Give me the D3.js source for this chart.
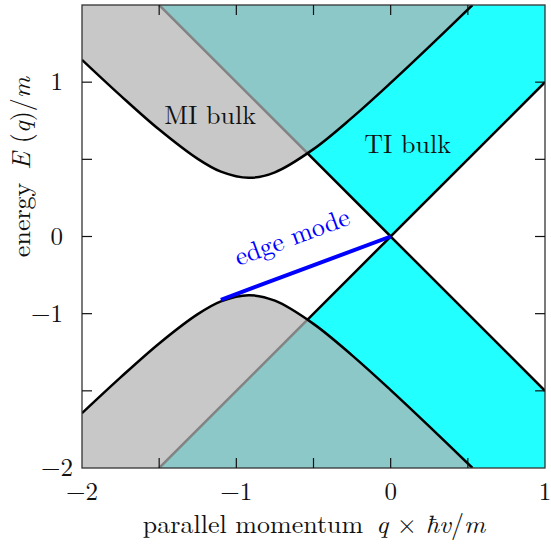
<!DOCTYPE html>
<html lang="en">
<head>
<meta charset="utf-8">
<script src="https://d3js.org/d3.v7.min.js"></script>
<style>
    body { margin: 0; background: white; }
</style>
</head>
<body>
<svg width="551" height="551"></svg>
<script>
// MI band edge (upper branch; the lower one is its mirror)
const miQ = [-2, -1.75, -1.5, -1.25, -1.1, -0.92, -0.75, -0.5, -0.25, 0, 0.25, 0.53];
const miE = [1.145, 0.913, 0.693, 0.503, 0.42, 0.38, 0.416, 0.566, 0.77, 0.995, 1.23, 1.5];

// TI Dirac cone edges
const tiQ = [-1.5, 0, 1];
const tiUpperE = [1.5, 0, 1];
const tiLowerE = [-1.5, 0, -1];

// edge mode
const edgeQ = [-1.1, 0];
const edgeE = [-0.41, 0];

// ticks and tick labels
const xTicks = [-1.5, -1, -0.5, 0, 0.5];
const yTicks = [-1, -0.5, 0, 0.5, 1];
const xTickLabels = [[-2, '−2'], [-1, '−1'], [0, '0'], [1, '1']];
const yTickLabels = [[1, '1'], [0, '0'], [-0.5, '−1'], [-1.5, '−2']];

const serif = "'Latin Modern Roman', 'Liberation Serif', serif";
const margin = {top: 5, right: 6, bottom: 83, left: 82};
const width = 463, height = 463;

const svg = d3.select('svg');
const g = svg.append('g')
    .attr('transform', `translate(${margin.left}, ${margin.top})`);

const x = d3.scaleLinear().domain([-2, 1]).range([0, width]);
const y = d3.scaleLinear().domain([-1.5, 1.5]).range([height, 0]);

svg.append('defs').append('clipPath').attr('id', 'plot')
    .append('rect').attr('width', width).attr('height', height);

const plot = g.append('g').attr('clip-path', 'url(#plot)');

const ti = tiQ.map((q, i) => ({q: q, up: tiUpperE[i], lo: tiLowerE[i]}));
const mi = miQ.map((q, i) => ({q: q, e: miE[i]}));

// TI bulk (cyan)
plot.append('path').datum(ti)
    .attr('fill', '#22ffff')
    .attr('d', d3.area().x(d => x(d.q)).y0(y(1.5)).y1(d => y(d.up)));
plot.append('path').datum(ti)
    .attr('fill', '#22ffff')
    .attr('d', d3.area().x(d => x(d.q)).y0(y(-1.5)).y1(d => y(d.lo)));

plot.append('path').datum(ti)
    .attr('fill', 'none').attr('stroke', 'black').attr('stroke-width', 2.5)
    .attr('d', d3.line().x(d => x(d.q)).y(d => y(d.up)));
plot.append('path').datum(ti)
    .attr('fill', 'none').attr('stroke', 'black').attr('stroke-width', 2.5)
    .attr('d', d3.line().x(d => x(d.q)).y(d => y(d.lo)));

// MI bulk (grey, see-through)
const curve = d3.curveCatmullRom;
plot.append('path').datum(mi)
    .attr('fill', 'rgb(180,180,180)').attr('fill-opacity', 0.73)
    .attr('d', d3.area().curve(curve).x(d => x(d.q)).y0(y(1.5)).y1(d => y(d.e)));
plot.append('path').datum(mi)
    .attr('fill', 'rgb(180,180,180)').attr('fill-opacity', 0.73)
    .attr('d', d3.area().curve(curve).x(d => x(d.q)).y0(y(-1.5)).y1(d => y(-d.e)));

plot.append('path').datum(mi)
    .attr('fill', 'none').attr('stroke', 'black').attr('stroke-width', 2.5)
    .attr('d', d3.line().curve(curve).x(d => x(d.q)).y(d => y(d.e)));
plot.append('path').datum(mi)
    .attr('fill', 'none').attr('stroke', 'black').attr('stroke-width', 2.5)
    .attr('d', d3.line().curve(curve).x(d => x(d.q)).y(d => y(-d.e)));

// edge mode
plot.append('path').datum(edgeQ.map((q, i) => [q, edgeE[i]]))
    .attr('fill', 'none').attr('stroke', '#0000ff').attr('stroke-width', 4)
    .attr('d', d3.line().x(d => x(d[0])).y(d => y(d[1])));

// frame and ticks
g.append('rect')
    .attr('width', width).attr('height', height)
    .attr('fill', 'none').attr('stroke', '#333').attr('stroke-width', 1.3);

const tl = 10;
xTicks.forEach(t => {
    g.append('line').attr('x1', x(t)).attr('x2', x(t)).attr('y1', height).attr('y2', height - tl)
        .attr('stroke', '#111').attr('stroke-width', 1.2);
    g.append('line').attr('x1', x(t)).attr('x2', x(t)).attr('y1', 0).attr('y2', tl)
        .attr('stroke', '#111').attr('stroke-width', 1.2);
});
yTicks.forEach(t => {
    g.append('line').attr('x1', 0).attr('x2', tl).attr('y1', y(t)).attr('y2', y(t))
        .attr('stroke', '#111').attr('stroke-width', 1.2);
    g.append('line').attr('x1', width).attr('x2', width - tl).attr('y1', y(t)).attr('y2', y(t))
        .attr('stroke', '#111').attr('stroke-width', 1.2);
});

g.selectAll('.xl').data(xTickLabels).join('text')
    .attr('font-family', serif).attr('fill', '#111')
    .attr('x', d => x(d[0])).attr('y', height + 32)
    .attr('text-anchor', 'middle').attr('font-size', 25)
    .text(d => d[1]);
g.selectAll('.yl').data(yTickLabels).join('text')
    .attr('font-family', serif).attr('fill', '#111')
    .attr('x', d => d[0] === -1.5 ? -9 : -19).attr('y', d => y(d[0]) + 8)
    .attr('text-anchor', 'end').attr('font-size', 25)
    .text(d => d[1]);

// axis titles
const xt = svg.append('text')
    .attr('font-family', serif).attr('fill', '#111')
    .attr('x', 314).attr('y', 533)
    .attr('text-anchor', 'middle').attr('font-size', 26);
xt.append('tspan').text('parallel momentum\u2002');
xt.append('tspan').attr('font-style', 'italic').text('q');
xt.append('tspan').text(' × ');
xt.append('tspan').attr('font-style', 'italic').text('ħv');
xt.append('tspan').text('/');
xt.append('tspan').attr('font-style', 'italic').text('m');

const yt = svg.append('text')
    .attr('font-family', serif).attr('fill', '#111')
    .attr('transform', 'translate(30, 167) rotate(-90)')
    .attr('text-anchor', 'middle').attr('font-size', 26);
yt.append('tspan').text('energy\u2002');
yt.append('tspan').attr('font-style', 'italic').text('E');
yt.append('tspan').text(' (');
yt.append('tspan').attr('font-style', 'italic').text('q');
yt.append('tspan').text(')/');
yt.append('tspan').attr('font-style', 'italic').text('m');

// region labels
g.append('text')
    .attr('font-family', serif).attr('fill', '#111')
    .attr('x', x(-1.17)).attr('y', y(0.78) + 8)
    .attr('text-anchor', 'middle').attr('font-size', 26)
    .text('MI bulk');
g.append('text')
    .attr('font-family', serif).attr('fill', '#111')
    .attr('x', x(0.11)).attr('y', y(0.595) + 8)
    .attr('text-anchor', 'middle').attr('font-size', 26)
    .text('TI bulk');
g.append('text')
    .attr('font-family', serif).attr('fill', '#0000ff')
    .attr('transform', `translate(${x(-0.62)}, ${y(-0.055)}) rotate(-20.3)`)
    .attr('text-anchor', 'middle').attr('font-size', 26)
    .text('edge mode');
</script>
</body>
</html>
